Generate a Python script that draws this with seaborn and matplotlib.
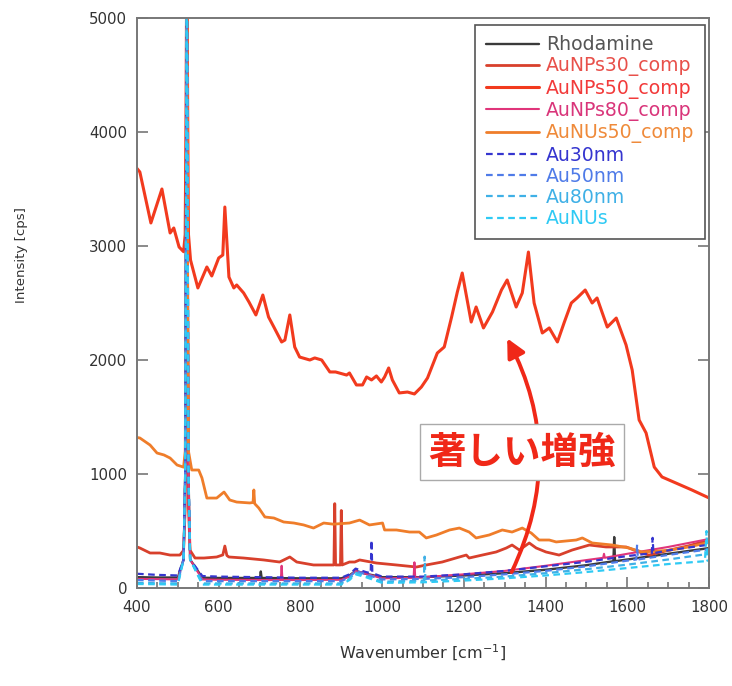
import pandas as pd
import seaborn as sns
import matplotlib.pyplot as plt
from matplotlib.ticker import MultipleLocator

sns.set_theme(style="white")
plt.rcParams['font.family'] = ['DejaVu Sans']

# ---- data (wavenumber [cm-1], intensity [cps]) ----
x_np50 = [400, 407, 434, 461, 481, 490, 503, 514, 518, 520,
          522, 524, 526, 531, 549, 571, 583, 600, 610, 615,
          625, 637, 644, 661, 674, 691, 708, 722, 735, 754,
          762, 774, 786, 798, 823, 835, 852, 872, 886, 913,
          920, 937, 952, 962, 974, 986, 998, 1006, 1016, 1025,
          1042, 1062, 1079, 1096, 1111, 1135, 1152, 1170, 1184, 1196,
          1218, 1230, 1248, 1270, 1292, 1306, 1328, 1343, 1358, 1372,
          1392, 1409, 1429, 1446, 1463, 1477, 1497, 1514, 1526, 1551,
          1573, 1597, 1612, 1629, 1646, 1666, 1685, 1719, 1758, 1800]
y_np50 = [3680, 3649, 3202, 3500, 3114, 3158, 2991, 2950, 3100, 4200,
          5600, 4200, 3100, 2877, 2632, 2816, 2737, 2895, 2921, 3342,
          2728, 2632, 2658, 2588, 2509, 2395, 2570, 2377, 2289, 2158,
          2175, 2395, 2114, 2026, 2000, 2018, 2000, 1895, 1895, 1868,
          1886, 1781, 1781, 1851, 1825, 1860, 1807, 1851, 1930, 1825,
          1711, 1719, 1702, 1763, 1842, 2061, 2114, 2377, 2596, 2763,
          2333, 2465, 2281, 2421, 2614, 2702, 2465, 2588, 2947, 2500,
          2237, 2281, 2158, 2333, 2500, 2544, 2614, 2500, 2544, 2289,
          2368, 2132, 1912, 1474, 1360, 1061, 974, 921, 860, 790]

x_nu50 = [400, 407, 432, 449, 466, 481, 498, 514, 518, 520,
          522, 524, 526, 534, 551, 559, 571, 595, 613, 627,
          644, 676, 684, 686, 688, 698, 713, 735, 759, 784,
          808, 832, 857, 880, 900, 920, 945, 969, 1001, 1006,
          1035, 1067, 1091, 1108, 1133, 1165, 1189, 1213, 1230, 1262,
          1294, 1318, 1343, 1365, 1384, 1409, 1426, 1475, 1490, 1514,
          1563, 1604, 1636, 1700, 1750, 1800]
y_nu50 = [1320, 1316, 1254, 1184, 1167, 1140, 1079, 1060, 1200, 2500,
          5600, 2500, 1200, 1035, 1035, 965, 789, 789, 842, 772,
          754, 746, 750, 860, 740, 702, 623, 614, 579, 570,
          553, 526, 570, 560, 565, 570, 596, 553, 570, 509,
          509, 491, 491, 439, 465, 509, 526, 491, 439, 465,
          509, 491, 526, 482, 421, 421, 404, 421, 439, 395,
          377, 351, 316, 330, 360, 400]

x_np30 = [400, 407, 432, 456, 481, 505, 514, 518, 520, 522,
          524, 526, 530, 542, 564, 595, 610, 615, 620, 625,
          661, 710, 749, 774, 791, 832, 872, 882, 884, 886,
          898, 900, 902, 920, 933, 945, 986, 1035, 1084, 1108,
          1147, 1189, 1206, 1213, 1245, 1279, 1304, 1318, 1336, 1360,
          1377, 1401, 1433, 1465, 1507, 1548, 1597, 1629, 1653, 1700,
          1750, 1800]
y_np30 = [360, 351, 307, 307, 289, 289, 330, 700, 2000, 5600,
          2000, 700, 330, 263, 263, 272, 290, 368, 285, 272,
          263, 246, 228, 272, 228, 202, 202, 202, 740, 202,
          202, 680, 202, 228, 228, 246, 219, 202, 184, 202,
          228, 272, 289, 263, 289, 316, 351, 377, 333, 395,
          351, 316, 289, 333, 377, 360, 360, 316, 289, 330,
          370, 420]

x_np80 = [400, 450, 500, 514, 518, 522, 526, 530, 560, 600,
          700, 752, 754, 756, 800, 900, 920, 935, 960, 1000,
          1077, 1079, 1081, 1100, 1200, 1300, 1400, 1500, 1541, 1543,
          1545, 1600, 1700, 1800]
y_np80 = [80, 78, 75, 250, 1000, 5600, 1000, 250, 75, 72,
          70, 70, 195, 70, 70, 72, 100, 150, 125, 85,
          90, 225, 90, 95, 120, 150, 195, 245, 265, 300,
          265, 300, 360, 430]

x_rho = [400, 450, 500, 514, 518, 522, 526, 530, 560, 600,
         701, 703, 705, 800, 900, 920, 935, 960, 1000, 1100,
         1200, 1300, 1400, 1500, 1566, 1568, 1570, 1600, 1700, 1800]
y_rho = [95, 92, 92, 250, 1000, 5600, 1000, 250, 90, 88,
         88, 145, 88, 85, 85, 110, 150, 125, 95, 95,
         110, 130, 160, 200, 235, 447, 235, 250, 300, 350]

x_au30 = [400, 450, 500, 514, 518, 522, 526, 530, 560, 600,
          700, 800, 900, 920, 935, 960, 972, 974, 976, 1000,
          1100, 1200, 1300, 1400, 1500, 1600, 1660, 1662, 1664, 1700,
          1800]
y_au30 = [125, 115, 110, 250, 1000, 5600, 1000, 250, 105, 100,
          95, 90, 90, 120, 170, 140, 130, 420, 130, 100,
          100, 120, 150, 190, 230, 280, 305, 440, 305, 330,
          380]

x_au50 = [400, 450, 500, 514, 518, 522, 526, 530, 560, 600,
          700, 800, 900, 920, 935, 960, 1000, 1100, 1200, 1300,
          1400, 1500, 1600, 1622, 1624, 1626, 1700, 1800]
y_au50 = [70, 65, 60, 250, 1000, 5600, 1000, 250, 60, 60,
          60, 60, 60, 95, 150, 120, 75, 80, 95, 120,
          150, 190, 240, 250, 380, 250, 290, 340]

x_au80 = [400, 450, 500, 514, 518, 522, 526, 530, 560, 600,
          700, 800, 900, 920, 935, 960, 1000, 1102, 1104, 1106,
          1200, 1300, 1400, 1500, 1600, 1700, 1800]
y_au80 = [45, 42, 40, 250, 1000, 5600, 1000, 250, 40, 40,
          40, 40, 40, 80, 135, 105, 55, 65, 275, 65,
          80, 100, 130, 165, 205, 250, 300]

x_nus = [400, 450, 500, 514, 518, 522, 526, 530, 560, 600,
         700, 800, 900, 920, 935, 960, 1000, 1100, 1200, 1300,
         1400, 1500, 1600, 1700, 1790, 1794, 1796, 1800]
y_nus = [35, 33, 30, 250, 1000, 5600, 1000, 250, 30, 30,
         30, 30, 30, 70, 120, 95, 45, 50, 65, 85,
         110, 140, 175, 210, 235, 500, 240, 240]

names = ['Rhodamine', 'AuNPs30_comp', 'AuNPs50_comp', 'AuNPs80_comp',
         'AuNUs50_comp', 'Au30nm', 'Au50nm', 'Au80nm', 'AuNUs']
xs = [x_rho, x_np30, x_np50, x_np80, x_nu50, x_au30, x_au50, x_au80, x_nus]
ys = [y_rho, y_np30, y_np50, y_np80, y_nu50, y_au30, y_au50, y_au80, y_nus]
colors = ['#3a3a3a', '#d8402c', '#f23a1e', '#e0357a', '#ef7d2a',
          '#3535cf', '#4f7be8', '#3fb0e6', '#2fcaf4']
text_colors = ['#555555', '#e8504a', '#f23a3a', '#d9357a', '#ef8a3a',
               '#3535cf', '#4f7be8', '#3fb0e6', '#2fcaf4']
dashed = [False, False, False, False, False, True, True, True, True]
widths = [1.7, 2.0, 2.2, 1.5, 2.0, 1.6, 1.6, 1.6, 1.6]

fig = plt.figure(figsize=(7.32, 6.86), dpi=100)
ax = fig.add_axes([137 / 732, 1 - 588 / 686, (709 - 137) / 732, (588 - 18) / 686])

for name, x, y, c, d, w in zip(names, xs, ys, colors, dashed, widths):
    df = pd.DataFrame({'wavenumber': x, 'intensity': y})
    sns.lineplot(data=df, x='wavenumber', y='intensity', ax=ax, color=c,
                 lw=w, label=name, estimator=None, sort=False,
                 linestyle=(0, (3, 2)) if d else '-')

ax.set_xlim(400, 1800)
ax.set_ylim(0, 5000)
ax.xaxis.set_major_locator(MultipleLocator(200))
ax.xaxis.set_minor_locator(MultipleLocator(50))
ax.yaxis.set_major_locator(MultipleLocator(1000))
ax.tick_params(which='both', direction='in', color='#777777', width=1.2,
               right=True, left=True, bottom=True, top=False)
ax.tick_params(which='major', length=8, labelsize=10.8, labelcolor='#333333')
ax.tick_params(axis='x', which='major', pad=9)
ax.tick_params(axis='y', which='major', pad=7)
ax.tick_params(which='minor', length=4)
for s in ax.spines.values():
    s.set_color('#777777')
    s.set_linewidth(1.4)

ax.set_xlabel('Wavenumber [cm$^{-1}$]', fontsize=11.5, color='#333333', labelpad=20)
ax.set_ylabel('Intensity [cps]', fontsize=9.6, color='#333333')
ax.yaxis.set_label_coords(-0.191, 0.584)

leg = ax.legend(loc='upper right', bbox_to_anchor=(0.993, 0.988), fontsize=13.6,
                frameon=True, fancybox=False, framealpha=1, edgecolor='#555555',
                handlelength=2.8, labelspacing=0.12, borderpad=0.55,
                handletextpad=0.4, borderaxespad=0)
leg.get_frame().set_linewidth(1.2)
for t, c in zip(leg.get_texts(), text_colors):
    t.set_color(c)

ax.annotate('', xy=(1306, 2190), xytext=(1317, 140),
            arrowprops=dict(arrowstyle='-|>', color='#f02818', lw=2.8,
                            mutation_scale=28, shrinkA=0, shrinkB=0,
                            connectionstyle='arc3,rad=0.25'), zorder=8)
ax.text(1343, 1193, '著しい増強', ha='center', va='center', fontsize=27,
        color='#f02818', family=['Noto Sans CJK JP'], fontweight='bold',
        bbox=dict(boxstyle='square,pad=0.22', fc='white', ec='#aaaaaa', lw=1),
        zorder=10)

fig.savefig('out.png', dpi=100)
